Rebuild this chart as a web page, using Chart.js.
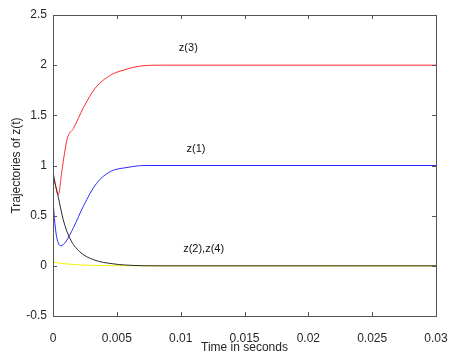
<!DOCTYPE html>
<html lang="en">
  <head>
    <meta charset="UTF-8" />
    <title>Trajectories of z(t)</title>
    <script src="https://cdn.jsdelivr.net/npm/chart.js"></script>
    <style>
      html, body { margin: 0; padding: 0; background: #fff; }
      #wrap { width: 463px; height: 361px; }
    </style>
  </head>
  <body>
    <div id="wrap"><canvas id="zChart" width="463" height="361"></canvas></div>
    <script>
      // values
      const z3Time = [0, 0.0002, 0.00042, 0.0007, 0.0009, 0.00112, 0.0016, 0.0024, 0.0033, 0.0045, 0.0055, 0.0068, 0.0085, 0.03];
      const z3Vals = [0.89, 0.80, 0.71, 0.95, 1.12, 1.27, 1.37, 1.58, 1.77, 1.90, 1.95, 1.99, 2.0, 2.0];

      const z1Time = [0, 0.00015, 0.0003, 0.0006, 0.001, 0.0016, 0.0024, 0.0034, 0.0045, 0.0058, 0.0072, 0.03];
      const z1Vals = [0.66, 0.42, 0.28, 0.20, 0.24, 0.38, 0.60, 0.82, 0.94, 0.98, 1.0, 1.0];

      const z24Time = [0, 0.0002, 0.00042, 0.0008, 0.0013, 0.0021, 0.0032, 0.0047, 0.0065, 0.008, 0.03];
      const z24Vals = [0.94, 0.80, 0.68, 0.46, 0.28, 0.14, 0.06, 0.02, 0.003, 0, 0];

      const yelTime = [0, 0.001, 0.002, 0.003, 0.005, 0.03];
      const yelVals = [0.035, 0.02, 0.01, 0.005, 0.001, 0];

      const xTicks = [0, 0.005, 0.01, 0.015, 0.02, 0.025, 0.03];
      const yTicks = [-0.5, 0, 0.5, 1, 1.5, 2, 2.5];

      const curveLabels = [
        { text: "z(3)", x: 0.0106, y: 2.17 },
        { text: "z(1)", x: 0.0112, y: 1.16 },
        { text: "z(2),z(4)", x: 0.0118, y: 0.17 },
      ];

      const pts = (ts, vs) => ts.map((t, i) => ({ x: t, y: vs[i] }));
      const axisColor = "#262626";
      const family = "'Liberation Sans', Arial, sans-serif";
      const font = { family, size: 12 };

      // box round the plot, inward ticks, and the curve labels
      const boxPlugin = {
        id: "box",
        afterDraw(chart) {
          const { ctx, chartArea: a, scales } = chart;
          ctx.save();
          ctx.strokeStyle = "#555";
          ctx.lineWidth = 1;
          ctx.strokeRect(a.left + 0.5, a.top + 0.5, a.right - a.left, a.bottom - a.top);
          ctx.beginPath();
          xTicks.forEach((v) => {
            const px = Math.round(scales.x.getPixelForValue(v)) + 0.5;
            ctx.moveTo(px, a.bottom); ctx.lineTo(px, a.bottom - 4);
            ctx.moveTo(px, a.top); ctx.lineTo(px, a.top + 4);
          });
          yTicks.forEach((v) => {
            const py = Math.round(scales.y.getPixelForValue(v)) + 0.5;
            ctx.moveTo(a.left, py); ctx.lineTo(a.left + 4, py);
            ctx.moveTo(a.right, py); ctx.lineTo(a.right - 4, py);
          });
          ctx.stroke();
          ctx.fillStyle = "#111";
          ctx.font = "11px " + family;
          ctx.textAlign = "center";
          ctx.textBaseline = "middle";
          curveLabels.forEach((l) => {
            ctx.fillText(l.text, scales.x.getPixelForValue(l.x), scales.y.getPixelForValue(l.y));
          });
          ctx.restore();
        },
      };

      const line = (data, color) => ({
        data,
        borderColor: color,
        borderWidth: 1,
        pointRadius: 0,
        fill: false,
        cubicInterpolationMode: "monotone",
      });

      new Chart(document.getElementById("zChart"), {
        type: "line",
        data: {
          datasets: [
            line(pts(z24Time, z24Vals), "#2a2a2a"),
            line(pts(z1Time, z1Vals), "#2b2bff"),
            line(pts(z3Time, z3Vals), "#ff2b2b"),
            line(pts(yelTime, yelVals), "#f2f200"),
          ],
        },
        options: {
          responsive: false,
          animation: false,
          layout: { padding: { top: 15, right: 27, left: 0, bottom: 0 } },
          plugins: { legend: { display: false }, tooltip: { enabled: false } },
          scales: {
            x: {
              type: "linear",
              min: 0,
              max: 0.03,
              afterFit: (s) => { s.height = 45; },
              afterBuildTicks: (s) => { s.ticks = xTicks.map((v) => ({ value: v })); },
              grid: { display: false, drawTicks: false },
              border: { display: false },
              ticks: {
                color: axisColor,
                font,
                padding: 15,
                maxRotation: 0,
                callback: (v) => String(+v.toFixed(3)),
              },
              title: { display: true, text: "Time in seconds", color: axisColor, font, padding: { top: 6, bottom: 6 } },
            },
            y: {
              min: -0.5,
              max: 2.5,
              afterFit: (s) => { s.width = 53; },
              afterBuildTicks: (s) => { s.ticks = yTicks.map((v) => ({ value: v })); },
              grid: { display: false, drawTicks: false },
              border: { display: false },
              ticks: { color: axisColor, font, padding: 6, callback: (v) => String(v) },
              title: { display: true, text: "Trajectories of z(t)", color: axisColor, font, padding: { top: 9, bottom: 9 } },
            },
          },
        },
        plugins: [boxPlugin],
      });
    </script>
  </body>
</html>
